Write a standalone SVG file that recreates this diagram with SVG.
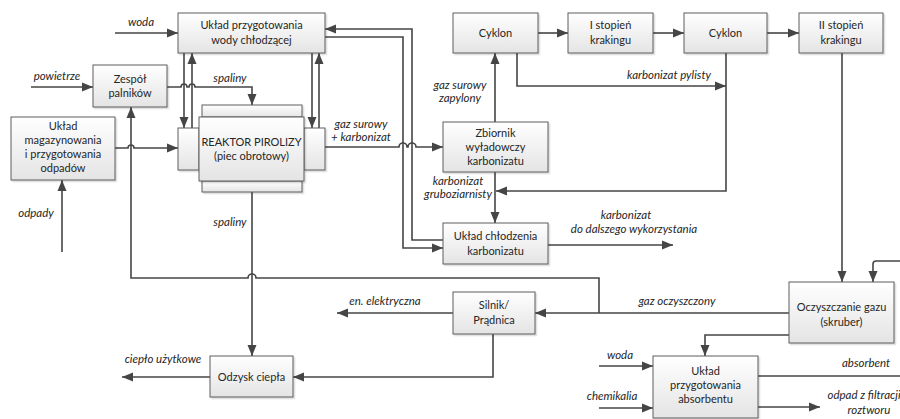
<svg xmlns="http://www.w3.org/2000/svg" width="900" height="419" viewBox="0 0 900 419">
  <style>
    .box { fill: url(#boxFill); stroke: #5c5c5c; stroke-width: 1; filter: url(#shade); }
    .t { font-family: Lato, "Liberation Sans", sans-serif; font-size: 11px; fill: #262626; text-anchor: middle; }
    .l { font-family: Lato, "Liberation Sans", sans-serif; font-size: 11.5px; font-style: italic; fill: #262626; text-anchor: middle; }
    .c { fill: none; stroke: #454545; stroke-width: 1.6; }
    .a { marker-end: url(#arr); }
  </style>
  <defs>
    <linearGradient id="boxFill" x1="0" y1="0" x2="0" y2="1">
      <stop offset="0" stop-color="#ffffff"/>
      <stop offset="1" stop-color="#e4e4e4"/>
    </linearGradient>
    <filter id="shade" x="-10%" y="-10%" width="130%" height="140%">
      <feDropShadow dx="1.5" dy="1.5" stdDeviation="0.6" flood-color="#000" flood-opacity="0.15"/>
    </filter>
    <marker id="arr" markerUnits="userSpaceOnUse" markerWidth="12" markerHeight="12" viewBox="0 0 12 12" refX="11" refY="6" orient="auto">
      <path d="M0,1.5 L11,6 L0,10.5 Z" fill="#454545"/>
    </marker>
  </defs>

  <rect width="900" height="419" fill="#ffffff"/>

  <!-- connectors -->
  <g id="connectors">
    <path class="c a" d="M115,33 H178"/>
    <path class="c a" d="M31,87 H93"/>
    <path class="c a" d="M167,87 H181 a3,3 0 0 1 6,0 H189 a3,3 0 0 1 6,0 H252 V105"/>
    <path class="c a" d="M115,148 H128 a3,3 0 0 1 6,0 H178"/>
    <path class="c a" d="M62,252 V180"/>
    <path class="c a" d="M184,53 V128"/>
    <path class="c a" d="M192,128 V53"/>
    <path class="c a" d="M312,53 V128"/>
    <path class="c a" d="M319,128 V53"/>
    <path class="c a" d="M325,147 H399 a4,4 0 0 1 8,0 H408 a4,4 0 0 1 8,0 H443"/>
    <path class="c a" d="M325,37 H403 V248 H443"/>
    <path class="c a" d="M443,240 H412 V29 H325"/>
    <path class="c a" d="M495,122 V53"/>
    <path class="c a" d="M538,33 H568"/>
    <path class="c a" d="M653,33 H684"/>
    <path class="c a" d="M767,33 H799"/>
    <path class="c a" d="M517,53 V86 H726"/>
    <path class="c a" d="M726,53 V191 H496"/>
    <path class="c a" d="M495,172 V223"/>
    <path class="c a" d="M548,245 H673"/>
    <path class="c a" d="M842,53 V282"/>
    <path class="c a" d="M900,261 H876 Q873,261 873,264 V282"/>
    <path class="c a" d="M789,313 H535"/>
    <path class="c a" d="M599,313 V278 H256 a4,4 0 0 0 -8,0 H131 V107"/>
    <path class="c a" d="M453,313 H337"/>
    <path class="c a" d="M493,334 V377 H293"/>
    <path class="c a" d="M252,192 V356"/>
    <path class="c a" d="M210,377 H122"/>
    <path class="c a" d="M789,335 H705 V356"/>
    <path class="c a" d="M599,366 H653"/>
    <path class="c a" d="M599,408 H653"/>
    <path class="c" d="M758,376 H900"/>
    <path class="c a" d="M758,407 H820"/>
  </g>

  <!-- connector labels -->
  <g id="labels">
    <text class="l" x="141" y="26">woda</text>
    <text class="l" x="57" y="80">powietrze</text>
    <text class="l" x="230" y="82">spaliny</text>
    <text class="l" x="36" y="217">odpady</text>
    <text class="l" x="230" y="226">spaliny</text>
    <text class="l" x="361" y="128">gaz surowy</text>
    <text class="l" x="361" y="141">+ karbonizat</text>
    <text class="l" x="460" y="89">gaz surowy</text>
    <text class="l" x="460" y="102">zapylony</text>
    <text class="l" x="669" y="79">karbonizat pylisty</text>
    <text class="l" x="458" y="185">karbonizat</text>
    <text class="l" x="458" y="198">gruboziarnisty</text>
    <text class="l" x="626" y="219">karbonizat</text>
    <text class="l" x="634" y="233">do dalszego wykorzystania</text>
    <text class="l" x="385" y="305">en. elektryczna</text>
    <text class="l" x="677" y="305">gaz oczyszczony</text>
    <text class="l" x="163" y="363">ciepło użytkowe</text>
    <text class="l" x="620" y="359">woda</text>
    <text class="l" x="612" y="400">chemikalia</text>
    <text class="l" x="866" y="367">absorbent</text>
    <text class="l" x="864" y="399">odpad z filtracji</text>
    <text class="l" x="869" y="414">roztworu</text>
  </g>

  <!-- nodes -->
  <g id="uklad-wody">
    <rect class="box" x="178" y="13" width="147" height="40"/>
    <text class="t" x="251.5" y="29">Układ przygotowania</text>
    <text class="t" x="251.5" y="44">wody chłodzącej</text>
  </g>
  <g id="zespol-palnikow">
    <rect class="box" x="93" y="65" width="74" height="42"/>
    <text class="t" x="130" y="83">Zespół</text>
    <text class="t" x="130" y="97">palników</text>
  </g>
  <g id="uklad-magazynowania">
    <rect class="box" x="11" y="117" width="104" height="63"/>
    <text class="t" x="63" y="130">Układ</text>
    <text class="t" x="63" y="144">magazynowania</text>
    <text class="t" x="63" y="158">i przygotowania</text>
    <text class="t" x="63" y="172">odpadów</text>
  </g>
  <g id="reaktor">
    <rect class="box" x="202" y="105" width="100" height="12"/>
    <rect class="box" x="202" y="181" width="100" height="11"/>
    <rect class="box" x="178" y="128" width="21" height="42"/>
    <rect class="box" x="304" y="128" width="21" height="42"/>
    <rect class="box" x="199" y="117" width="105" height="64"/>
    <text class="t" x="251.5" y="146">REAKTOR PIROLIZY</text>
    <text class="t" x="251.5" y="160">(piec obrotowy)</text>
  </g>
  <g id="cyklon-1">
    <rect class="box" x="453" y="13" width="85" height="40"/>
    <text class="t" x="495.5" y="37">Cyklon</text>
  </g>
  <g id="stopien-1">
    <rect class="box" x="568" y="13" width="85" height="40"/>
    <text class="t" x="610.5" y="29">I stopień</text>
    <text class="t" x="610.5" y="44">krakingu</text>
  </g>
  <g id="cyklon-2">
    <rect class="box" x="684" y="13" width="83" height="40"/>
    <text class="t" x="725.5" y="37">Cyklon</text>
  </g>
  <g id="stopien-2">
    <rect class="box" x="799" y="13" width="84" height="40"/>
    <text class="t" x="841" y="29">II stopień</text>
    <text class="t" x="841" y="44">krakingu</text>
  </g>
  <g id="zbiornik">
    <rect class="box" x="443" y="122" width="105" height="50"/>
    <text class="t" x="495.5" y="137">Zbiornik</text>
    <text class="t" x="495.5" y="151">wyładowczy</text>
    <text class="t" x="495.5" y="165">karbonizatu</text>
  </g>
  <g id="uklad-chlodzenia">
    <rect class="box" x="443" y="223" width="105" height="41"/>
    <text class="t" x="495.5" y="240">Układ chłodzenia</text>
    <text class="t" x="495.5" y="255">karbonizatu</text>
  </g>
  <g id="silnik">
    <rect class="box" x="453" y="292" width="82" height="42"/>
    <text class="t" x="494" y="309">Silnik/</text>
    <text class="t" x="494" y="324">Prądnica</text>
  </g>
  <g id="oczyszczanie">
    <rect class="box" x="789" y="282" width="105" height="61"/>
    <text class="t" x="841.5" y="311">Oczyszczanie gazu</text>
    <text class="t" x="841.5" y="326">(skruber)</text>
  </g>
  <g id="uklad-absorbentu">
    <rect class="box" x="653" y="356" width="105" height="62"/>
    <text class="t" x="705.5" y="375">Układ</text>
    <text class="t" x="705.5" y="389">przygotowania</text>
    <text class="t" x="705.5" y="403">absorbentu</text>
  </g>
  <g id="odzysk-ciepla">
    <rect class="box" x="210" y="356" width="83" height="41"/>
    <text class="t" x="251.5" y="381">Odzysk ciepła</text>
  </g>
</svg>
